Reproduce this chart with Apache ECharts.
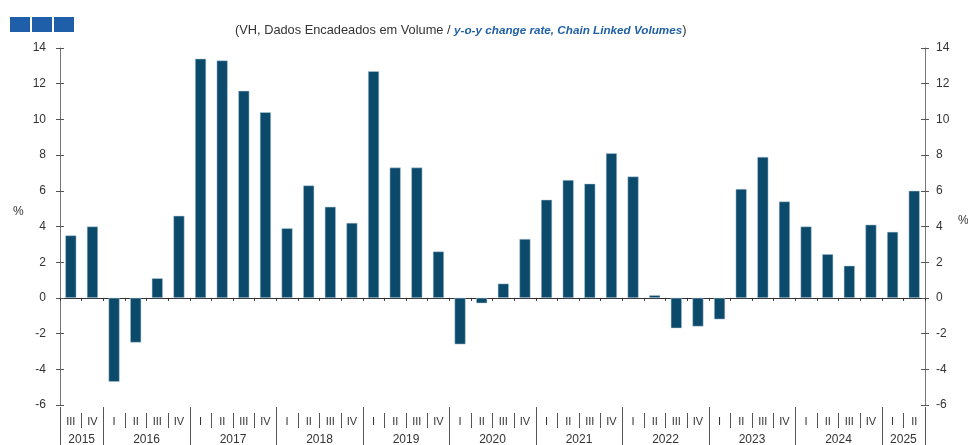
<!DOCTYPE html>
<html><head><meta charset="utf-8">
<script src="https://cdn.jsdelivr.net/npm/echarts@6/dist/echarts.min.js"></script>
<style>html,body{margin:0;padding:0;background:#fff}#c{width:968px;height:445px}</style>
</head><body><div id="c"></div>
<script>
const quarters = ['III','IV','I','II','III','IV','I','II','III','IV','I','II','III','IV','I','II','III','IV','I','II','III','IV','I','II','III','IV','I','II','III','IV','I','II','III','IV','I','II','III','IV','I','II'];
const years = ['2015','2016','2017','2018','2019','2020','2021','2022','2023','2024','2025'];
const yearQuarterCounts = [2,4,4,4,4,4,4,4,4,4,2];
const values = [3.5,4.0,-4.7,-2.5,1.1,4.6,13.4,13.3,11.6,10.4,3.9,6.3,5.1,4.2,12.7,7.3,7.3,2.6,-2.6,-0.3,0.8,3.3,5.5,6.6,6.4,8.1,6.8,0.15,-1.7,-1.6,-1.2,6.1,7.9,5.4,4.0,2.45,1.8,4.1,3.7,6.0];
const yTicks = {min:-6, max:14, interval:2};

// year boundaries and centres derived from the quarter counts
const yearStart = []; const yearCenter = {};
let acc = 0;
yearQuarterCounts.forEach((n,i)=>{ yearStart.push(acc); yearCenter[acc + n/2] = years[i]; acc += n; });

const FONT = 'Liberation Sans';
const chart = echarts.init(document.getElementById('c'));
const gridDef = {left:60, right:43, top:48, bottom:40, containLabel:false, outerBoundsMode:'none'};
const yBase = {type:'value', min:yTicks.min, max:yTicks.max, interval:yTicks.interval, splitLine:{show:false}};
chart.setOption({
  animation:false,
  title:{
    text:'{a|(VH, Dados Encadeados em Volume / }{b|y-o-y change rate, Chain Linked Volumes}{a|)}',
    left:230, top:19,
    textStyle:{fontWeight:'normal', rich:{
      a:{fontSize:12.8, fontWeight:'normal', color:'#333', fontFamily:FONT},
      b:{fontSize:11.7, fontStyle:'italic', fontWeight:'bold', color:'#1f5fa6', fontFamily:FONT}
    }}
  },
  graphic:[
    {type:'rect', shape:{x:10,y:17,width:20,height:15}, style:{fill:'#1f5ea8'}},
    {type:'rect', shape:{x:32,y:17,width:20,height:15}, style:{fill:'#1f5ea8'}},
    {type:'rect', shape:{x:54,y:17,width:20,height:15}, style:{fill:'#1f5ea8'}},
    {type:'text', left:13, top:206, style:{text:'%', font:'12px '+FONT, fill:'#333'}},
    {type:'text', left:958, top:215, style:{text:'%', font:'12px '+FONT, fill:'#333'}}
  ],
  grid:gridDef,
  xAxis:[
    {type:'category', data:quarters, position:'bottom', axisLine:{onZero:true, lineStyle:{color:'#333', width:1}},
     axisTick:{show:true, length:3, lineStyle:{color:'#333'}}, axisLabel:{show:false}},
    {type:'category', data:quarters, position:'bottom', offset:8,
     axisLine:{show:false, onZero:false}, axisTick:{show:true, length:15, lineStyle:{color:'#555'}},
     axisLabel:{show:true, interval:0, margin:3, fontSize:11, color:'#333', fontFamily:FONT}},
    {type:'category', data:quarters, position:'bottom', offset:2,
     axisLine:{show:false, onZero:false}, axisTick:{show:true, length:40, interval:(i)=>yearStart.indexOf(i)>=0, lineStyle:{color:'#555'}},
     axisLabel:{show:false}},
    {type:'value', min:0, max:quarters.length, interval:1, position:'bottom', splitLine:{show:false},
     axisLine:{show:false, onZero:false}, axisTick:{show:false},
     axisLabel:{show:true, margin:29, fontSize:12, color:'#333', fontFamily:FONT, formatter:(v)=>yearCenter[v]||''}}
  ],
  yAxis:[
    Object.assign({}, yBase, {position:'left', axisLine:{show:true, lineStyle:{color:'#777'}},
      axisTick:{show:true, length:4, lineStyle:{color:'#555'}},
      axisLabel:{margin:14, fontSize:12, color:'#333', fontFamily:FONT}}),
    Object.assign({}, yBase, {position:'left', axisLine:{show:false},
      axisTick:{show:true, inside:true, length:4, lineStyle:{color:'#555'}}, axisLabel:{show:false}}),
    Object.assign({}, yBase, {position:'right', axisLine:{show:true, lineStyle:{color:'#777'}},
      axisTick:{show:true, length:4, lineStyle:{color:'#555'}},
      axisLabel:{margin:11, fontSize:12, color:'#333', fontFamily:FONT}}),
    Object.assign({}, yBase, {position:'right', axisLine:{show:false},
      axisTick:{show:true, inside:true, length:4, lineStyle:{color:'#555'}}, axisLabel:{show:false}})
  ],
  series:[{
    type:'bar', data:values, xAxisIndex:0, yAxisIndex:0, barWidth:11,
    itemStyle:{color:'#0c4a6b', borderColor:'#b9cfdc', borderWidth:0.5}
  }]
});
</script></body></html>
